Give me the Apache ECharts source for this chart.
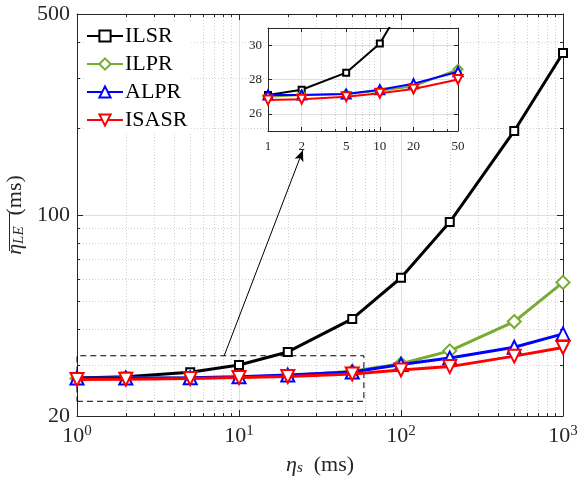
<!DOCTYPE html>
<html><head><meta charset="utf-8">
<script src="https://cdn.jsdelivr.net/npm/echarts@6/dist/echarts.min.js"></script>
<style>html,body{margin:0;padding:0;background:#fff}#c{width:577px;height:478px}</style>
</head><body><div id="c"></div>
<script>
const xs = [1, 2, 5, 10, 20, 50, 100, 200, 500, 1000];
const ILSR = [27.1, 27.4, 28.4, 30.1, 33.4, 43.5, 60.5, 94.5, 196, 366];
const ILPR = [27.0, 27.1, 27.15, 27.35, 27.6, 28.6, 30.4, 33.7, 42.6, 58.3];
const ALPR = [27.1, 27.1, 27.15, 27.4, 27.75, 28.45, 30.2, 31.8, 34.7, 38.6];
const ISASR = [26.8, 26.85, 27.0, 27.2, 27.45, 28.0, 28.9, 29.7, 32.3, 34.6];
const names = ['ILSR', 'ILPR', 'ALPR', 'ISASR'];
const colors = ['#000000', '#77AC30', '#0000FF', '#FF0000'];
const symbols = ['emptyRect', 'emptyDiamond', 'emptyTriangle', 'emptyTriangle'];
const rotates = [0, 0, 0, 180];
const mainXTicks = [1, 10, 100, 1000];
const mainXMinor = [2,3,4,5,6,7,8,9,20,30,40,50,60,70,80,90,200,300,400,500,600,700,800,900];
const mainYTicks = [20, 100, 500];
const mainYMinor = [30,40,50,60,70,80,90,200,300,400];
const insetXTicks = [1, 2, 5, 10, 20, 50];
const insetXMinor = [3,4,6,7,8,9,30,40];
const insetYTicks = [26, 28, 30];

const FONT = 'Liberation Serif';
const AX = '#262626';
const chart = echarts.init(document.getElementById('c'));
const allSeries = [ILSR, ILPR, ALPR, ISASR];

function axis(kind, o) {
  return Object.assign({
    type: 'log', logBase: 10, gridIndex: 0, position: kind === 'x' ? 'bottom' : 'left',
    axisLine: {show: true, onZero: false, lineStyle: {color: AX, width: 1}},
    axisTick: {show: true, inside: true, length: 5, lineStyle: {color: AX}},
    axisLabel: {show: false},
    splitLine: {show: false},
    minorTick: {show: false}, minorSplitLine: {show: false}
  }, o);
}
const supLabel = {
  show: true, margin: 8, fontFamily: FONT, color: AX,
  customValues: mainXTicks,
  formatter: v => '{b|10}{s|' + Math.round(Math.log10(v)) + '}',
  rich: {b: {fontSize: 22, fontFamily: FONT, color: AX}, s: {fontSize: 15, fontFamily: FONT, color: AX, verticalAlign: 'top', padding: [0,0,9,0]}}
};
const titleRich = {
  i: {fontSize: 22, fontFamily: FONT, fontStyle: 'italic', color: AX},
  sub: {fontSize: 15, fontFamily: FONT, fontStyle: 'italic', color: AX, verticalAlign: 'bottom', padding: [7,0,0,0]},
  n: {fontSize: 22, fontFamily: FONT, color: AX}
};

const IZ = 11;
const xAxis = [
  axis('x', {min: 1, max: 1000, axisTick: {show: true, inside: true, length: 6, customValues: mainXTicks, lineStyle: {color: AX}},
    axisLabel: supLabel, splitLine: {show: true, lineStyle: {color: '#dedede', width: 1}},
    name: '{i|η}{sub|s}{n|  (ms)}', nameLocation: 'middle', nameGap: 38,
    nameTextStyle: {rich: titleRich}}),
  axis('x', {min: 1, max: 1000, axisLine: {show: false}, axisTick: {show: true, inside: true, length: 3, customValues: mainXMinor, lineStyle: {color: AX}},
    splitLine: {show: true, lineStyle: {color: '#d0d0d0', type: [1, 2], width: 1}}}),
  axis('x', {min: 1, max: 1000, position: 'top', axisTick: {show: true, inside: true, length: 6, customValues: mainXTicks, lineStyle: {color: AX}}}),
  axis('x', {min: 1, max: 1000, position: 'top', axisLine: {show: false}, axisTick: {show: true, inside: true, length: 3, customValues: mainXMinor, lineStyle: {color: AX}}}),
  // inset
  axis('x', {gridIndex: 1, z: IZ, min: 1, max: 50, axisTick: {show: true, inside: true, length: 4, customValues: insetXTicks, lineStyle: {color: AX}},
    axisLabel: {show: true, customValues: insetXTicks, fontFamily: FONT, fontSize: 13, color: AX, margin: 9},
    splitLine: {show: true, lineStyle: {color: '#dedede'}}}),
  axis('x', {gridIndex: 1, z: IZ, min: 1, max: 50, axisLine: {show: false}, axisTick: {show: true, inside: true, length: 2, customValues: insetXMinor, lineStyle: {color: AX}},
    splitLine: {show: true, lineStyle: {color: '#d0d0d0', type: [1, 2]}}}),
  axis('x', {gridIndex: 1, z: IZ, min: 1, max: 50, position: 'top', axisTick: {show: true, inside: true, length: 4, customValues: insetXTicks, lineStyle: {color: AX}}})
];
const yAxis = [
  axis('y', {min: 20, max: 500, axisTick: {show: true, inside: true, length: 6, customValues: mainYTicks, lineStyle: {color: AX}},
    axisLabel: {show: true, customValues: mainYTicks, fontFamily: FONT, fontSize: 22, color: AX, margin: 7},
    splitLine: {show: true, lineStyle: {color: '#dedede'}},
    name: '{i|η}{sub|LE}{n|  (ms)}', nameLocation: 'middle', nameGap: 50, nameRotate: 90,
    nameTextStyle: {rich: titleRich}}),
  axis('y', {min: 20, max: 500, axisLine: {show: false}, axisTick: {show: true, inside: true, length: 3, customValues: mainYMinor, lineStyle: {color: AX}},
    splitLine: {show: true, lineStyle: {color: '#d0d0d0', type: [1, 2]}}}),
  axis('y', {min: 20, max: 500, position: 'right', axisTick: {show: true, inside: true, length: 6, customValues: mainYTicks, lineStyle: {color: AX}}}),
  axis('y', {min: 20, max: 500, position: 'right', axisLine: {show: false}, axisTick: {show: true, inside: true, length: 3, customValues: mainYMinor, lineStyle: {color: AX}}}),
  // inset
  {type: 'value', gridIndex: 1, z: IZ, min: 25, max: 31, position: 'left',
    axisLine: {show: true, lineStyle: {color: AX}}, axisTick: {show: true, inside: true, length: 4, customValues: insetYTicks, lineStyle: {color: AX}},
    axisLabel: {show: true, customValues: insetYTicks, fontFamily: FONT, fontSize: 13, color: AX, margin: 6},
    splitLine: {show: true, lineStyle: {color: '#dedede'}}},
  {type: 'value', gridIndex: 1, z: IZ, min: 25, max: 31, position: 'right',
    axisLine: {show: true, lineStyle: {color: AX}}, axisTick: {show: true, inside: true, length: 4, customValues: insetYTicks, lineStyle: {color: AX}},
    axisLabel: {show: false}, splitLine: {show: false}}
];

const series = [];
names.forEach((n, k) => {
  series.push({
    name: n, type: 'line', xAxisIndex: 0, yAxisIndex: 0, z: 3 + k,
    data: xs.map((x, i) => [x, allSeries[k][i]]),
    symbol: symbols[k], symbolRotate: rotates[k], symbolSize: k === 0 ? 8 : 13,
    lineStyle: {color: colors[k], width: 3}, itemStyle: {color: colors[k], borderColor: colors[k], borderWidth: 3},
    showAllSymbol: true, animation: false
  });
  series.push({
    name: n, type: 'line', xAxisIndex: 4, yAxisIndex: 4, z: 13 + k, clip: true,
    data: xs.map((x, i) => [x, allSeries[k][i]]),
    symbol: symbols[k], symbolRotate: rotates[k], symbolSize: k === 0 ? 6 : 9,
    lineStyle: {color: colors[k], width: 2}, itemStyle: {color: colors[k], borderColor: colors[k], borderWidth: 2},
    showAllSymbol: true, animation: false
  });
});
// zoom box and arrow on main axes
series.push({
  type: 'line', xAxisIndex: 0, yAxisIndex: 0, data: [], silent: true, z: 2,
  markArea: {silent: true, itemStyle: {color: 'rgba(0,0,0,0)', borderColor: '#000', borderWidth: 1, borderType: [6, 4]},
    data: [[{coord: [1, 22.5]}, {coord: [59, 32.4]}]]},
  markLine: {silent: true, symbol: ['none', 'arrow'], symbolSize: [7, 11], label: {show: false},
    lineStyle: {color: '#000', width: 1, type: 'solid'},
    data: [[{coord: [8.1, 32.4]}, {coord: [24.8, 168]}]]}
});

chart.setOption({
  animation: false,
  backgroundColor: '#fff',
  grid: [
    {left: 77, top: 14, width: 486, height: 402, containLabel: false, outerBoundsMode: 'none'},
    {left: 268, top: 28, width: 190, height: 103, containLabel: false, outerBoundsMode: 'none', show: true, backgroundColor: '#fff', borderWidth: 0, z: 10}
  ],
  legend: {
    show: true, orient: 'vertical', left: 84, top: 22, itemGap: 6, itemWidth: 36, itemHeight: 14,
    backgroundColor: '#fff', padding: [3, 4, 3, 2], z: 20,
    data: names,
    textStyle: {fontFamily: FONT, fontSize: 22, color: '#000', padding: [0, 0, 0, -3]}
  },
  xAxis, yAxis, series,
  graphic: [
    {type: 'line', z: 100, shape: {x1: 9.5, y1: 213, x2: 9.5, y2: 251}, style: {stroke: AX, lineWidth: 1}}
  ]
});
</script></body></html>
